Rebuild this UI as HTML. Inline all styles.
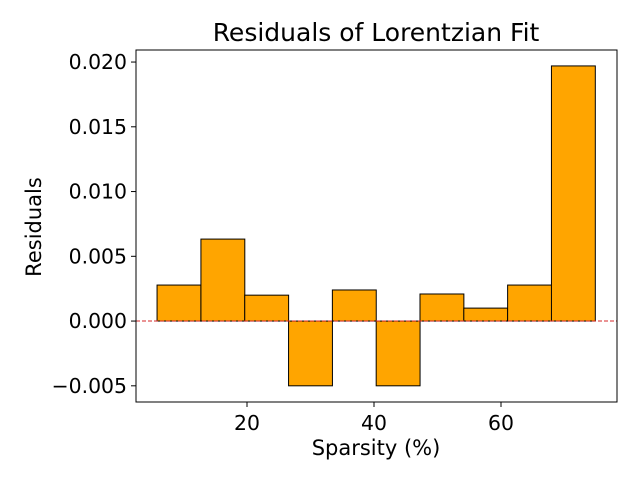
<!DOCTYPE html>
<html><head><meta charset="utf-8"><style>
body{margin:0;background:#fff;}
svg text{font-family:"DejaVu Sans","Liberation Sans",sans-serif;fill:#000;}
</style></head><body>
<svg id="chart" width="640" height="480" xmlns="http://www.w3.org/2000/svg">
<rect width="640" height="480" fill="#fff"/>
<text x="376" y="41" text-anchor="middle" font-size="25">Residuals of Lorentzian Fit</text>
<g id="bars"></g>
<line id="zero" stroke="#d62728" stroke-width="1" stroke-dasharray="4,2"/>
<rect x="136" y="50" width="481" height="352" fill="none" stroke="#000" stroke-width="1"/>
<g id="ticks"></g>
<text x="376" y="455" text-anchor="middle" font-size="21">Sparsity (%)</text>
<text transform="translate(41,227) rotate(-90)" text-anchor="middle" font-size="21">Residuals</text>
</svg>
<script>
const centers=[9.29,16.2,23.1,30.0,36.9,43.8,50.7,57.6,64.5,71.4];
const residuals=[0.00278,0.00633,0.0020,-0.0050,0.0024,-0.0050,0.00209,0.0010,0.00278,0.0197];
const xTicks=[20,40,60];
const yTicks=[-0.005,0,0.005,0.010,0.015,0.020];
const yTickLabels=["\u22120.005","0.000","0.005","0.010","0.015","0.020"];
const binWidth=6.91;
const L=136,R=617,T=50,B=402;
const xMin=2.52,xMax=78.27,yMin=-0.00625,yMax=0.02093;
const sx=v=>L+(v-xMin)/(xMax-xMin)*(R-L);
const sy=v=>B-(v-yMin)/(yMax-yMin)*(B-T);
const NS="http://www.w3.org/2000/svg";
const bars=document.getElementById('bars');
centers.forEach((c,i)=>{
  const r=document.createElementNS(NS,'rect');
  const x0=sx(c-binWidth/2),x1=sx(c+binWidth/2);
  const y0=sy(Math.max(0,residuals[i])),y1=sy(Math.min(0,residuals[i]));
  r.setAttribute('x',x0);r.setAttribute('y',y0);
  r.setAttribute('width',x1-x0);r.setAttribute('height',y1-y0);
  r.setAttribute('fill','#ffa500');r.setAttribute('stroke','#000');r.setAttribute('stroke-width','1');
  
  
  bars.appendChild(r);
});
const z=document.getElementById('zero');
z.setAttribute('x1',L);z.setAttribute('x2',R);z.setAttribute('y1',sy(0));z.setAttribute('y2',sy(0));
const tk=document.getElementById('ticks');
xTicks.forEach(v=>{
  const l=document.createElementNS(NS,'line');
  l.setAttribute('x1',sx(v));l.setAttribute('x2',sx(v));l.setAttribute('y1',B);l.setAttribute('y2',B+5);l.setAttribute('stroke','#000');
  
  
  tk.appendChild(l);
  const t=document.createElementNS(NS,'text');
  t.setAttribute('x',sx(v));t.setAttribute('y',B+28);t.setAttribute('text-anchor','middle');t.setAttribute('font-size','20.4');
  t.textContent=v;
  
  
  tk.appendChild(t);
});
yTicks.forEach((v,i)=>{
  const l=document.createElementNS(NS,'line');
  l.setAttribute('x1',L-5);l.setAttribute('x2',L);l.setAttribute('y1',sy(v));l.setAttribute('y2',sy(v));l.setAttribute('stroke','#000');
  
  
  tk.appendChild(l);
  const t=document.createElementNS(NS,'text');
  t.setAttribute('x',L-9);t.setAttribute('y',sy(v)+7);t.setAttribute('text-anchor','end');t.setAttribute('font-size','20.4');
  t.textContent=yTickLabels[i];
  
  
  tk.appendChild(t);
});
</script>
</body></html>
